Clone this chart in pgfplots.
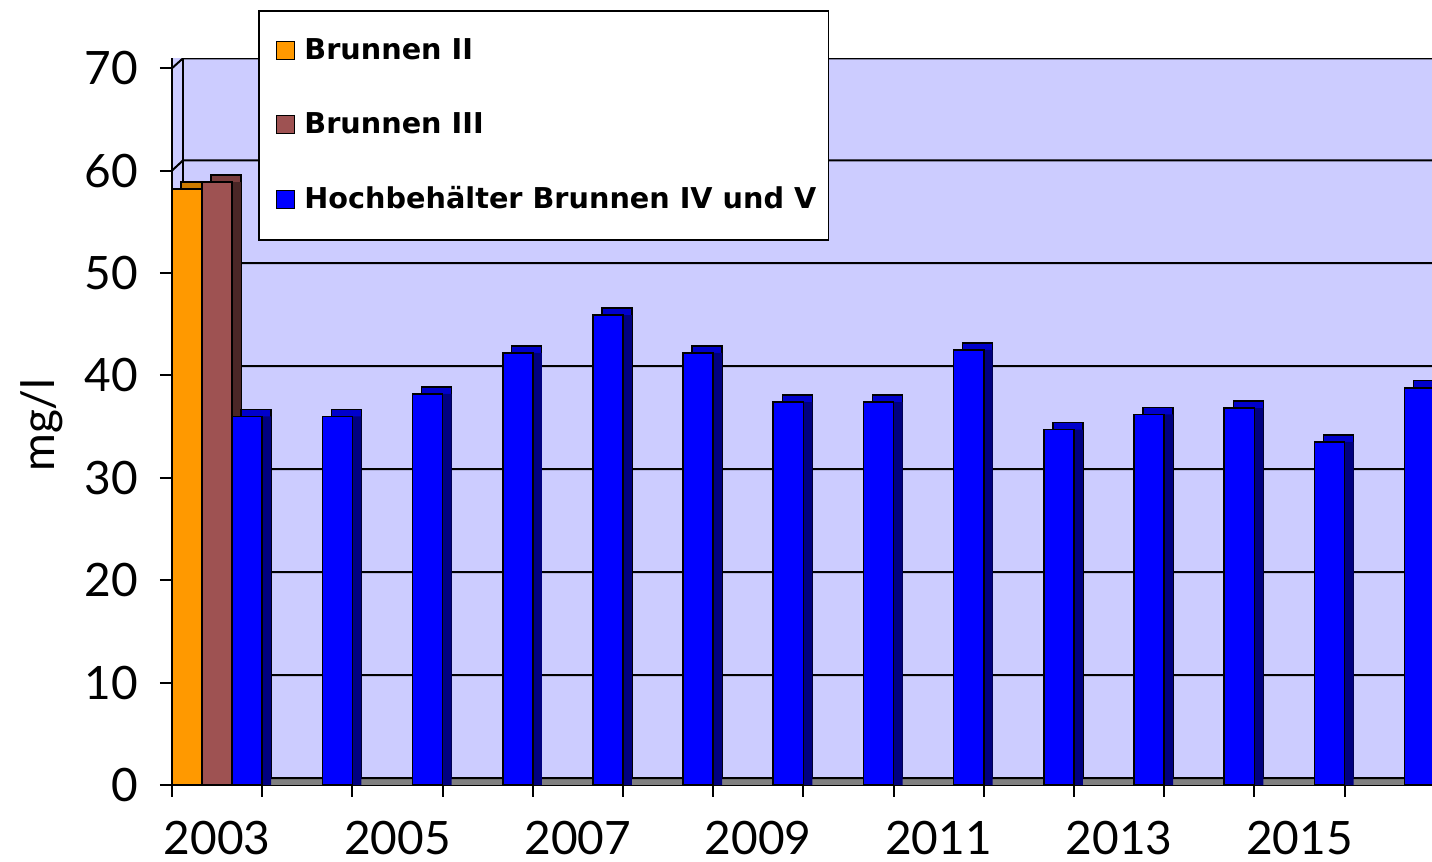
\documentclass[border=0pt]{standalone}
\usepackage{fontspec}
\setmainfont{Lato}
\newfontfamily\legfont{DejaVu Sans}
\usepackage{pgfplots}
\usepackage{pgfplotstable}
\pgfplotsset{compat=1.18}
\definecolor{wall}{HTML}{CCCCFF}
\definecolor{orf}{HTML}{FF9900}
\definecolor{ort}{HTML}{CC7A00}
\definecolor{ors}{HTML}{7F4C00}
\definecolor{brf}{HTML}{9E5252}
\definecolor{brt}{HTML}{7A3D3D}
\definecolor{brs}{HTML}{4A2626}
\definecolor{blf}{HTML}{0000FF}
\definecolor{blt}{HTML}{0000CC}
\definecolor{bls}{HTML}{000080}
\definecolor{floorc}{HTML}{808080}

\pgfplotstableread{
x y
0.1667 58.2
}\brII
\pgfplotstableread{
x y
0.5 58.9
}\brIII
\pgfplotstableread{
x y
0.8333 36.0
1.8333 36.0
2.8333 38.2
3.8333 42.2
4.8333 45.9
5.8333 42.2
6.8333 37.4
7.8333 37.4
8.8333 42.5
9.8333 34.7
10.8333 36.2
11.8333 36.8
12.8333 33.5
13.8333 38.8
}\hoch

\begin{document}
\begin{tikzpicture}
\begin{axis}[
  scale only axis, width=630pt, height=363.5pt,
  xmin=0, xmax=13.97, ymin=0, ymax=71,
  axis lines=left, axis line style={-, line width=1.4pt},
  axis background/.style={fill=wall},
  ybar, bar width=0.3333, bar shift=0pt,
  tick align=outside, major tick length=6pt,
  tick style={line width=1pt, black},
  ytick={0,10,...,70},
  xtick={0,...,13}, xticklabels={},
  extra x ticks={0.5,2.5,...,12.5},
  extra x tick labels={2003,2005,2007,2009,2011,2013,2015},
  extra x tick style={major tick style={draw=none}},
  /pgf/number format/assume math mode=true,
  ticklabel style={font=\fontsize{23}{27}\selectfont},
  xticklabel style={yshift=-8.5pt},
  yticklabel style={xshift=-7.5pt},
  ylabel={mg/l},
  ylabel style={font=\fontsize{23}{27}\selectfont, at={(axis description cs:-0.103,0.495)}, anchor=center},
  legend style={at={(0.0683,1.066)}, anchor=north west, draw=black, line width=0.8pt, fill=white,
    font=\legfont\bfseries\fontsize{14.35}{16}\selectfont, row sep=21pt,
    inner xsep=4pt, inner ysep=12pt, nodes={inner sep=2pt}},
  legend cell align=left,
  legend image code/.code={\path (0pt,0pt); \draw[#1, draw=black, line width=0.7pt] (4.5pt,-4.5pt) rectangle (13.5pt,4.5pt); \path (16pt,0pt);},
]
\fill[floorc] (axis cs:0,0) rectangle (axis cs:13.97,0.68);
\draw[line width=1pt] (axis cs:0.122,0.68) -- (axis cs:0.122,70.97);
\draw[line width=1pt] (axis cs:0,0) -- (axis cs:0.122,0.68) -- (axis cs:13.97,0.68);
\draw[line width=1pt] (axis cs:0,10) -- (axis cs:0.122,10.74) -- (axis cs:13.97,10.74);
\draw[line width=1pt] (axis cs:0,20) -- (axis cs:0.122,20.8) -- (axis cs:13.97,20.8);
\draw[line width=1pt] (axis cs:0,30) -- (axis cs:0.122,30.85) -- (axis cs:13.97,30.85);
\draw[line width=1pt] (axis cs:0,40) -- (axis cs:0.122,40.9) -- (axis cs:13.97,40.9);
\draw[line width=1pt] (axis cs:0,50) -- (axis cs:0.122,50.96) -- (axis cs:13.97,50.96);
\draw[line width=1pt] (axis cs:0,60) -- (axis cs:0.122,61.0) -- (axis cs:13.97,61.0);
\draw[line width=1pt] (axis cs:0,70) -- (axis cs:0.122,70.97) -- (axis cs:13.97,70.97);
% Brunnen II
\addplot[forget plot, fill=ort, draw=black, line width=0.7pt, xshift=4.5pt, yshift=3.5pt] table {\brII};
\addplot[forget plot, fill=ors, draw=none, xshift=4.5pt] table {\brII};
\addplot[fill=orf, draw=black, line width=0.8pt] table {\brII};
\addlegendentry{Brunnen II}
% Brunnen III
\addplot[forget plot, fill=brt, draw=black, line width=0.7pt, xshift=4.5pt, yshift=3.5pt] table {\brIII};
\addplot[forget plot, fill=brs, draw=none, xshift=4.5pt] table {\brIII};
\addplot[fill=brf, draw=black, line width=0.8pt] table {\brIII};
\addlegendentry{Brunnen III}
% Hochbehaelter
\addplot[forget plot, fill=blt, draw=black, line width=0.7pt, xshift=4.5pt, yshift=3.5pt] table {\hoch};
\addplot[forget plot, fill=bls, draw=none, xshift=4.5pt] table {\hoch};
\addplot[fill=blf, draw=black, line width=0.8pt] table {\hoch};
\addlegendentry{Hochbehälter Brunnen IV und V}
\end{axis}
\pgfresetboundingbox
\path[use as bounding box] (-86pt,-38.5pt) rectangle (630pt,392.5pt);
\end{tikzpicture}
\end{document}
